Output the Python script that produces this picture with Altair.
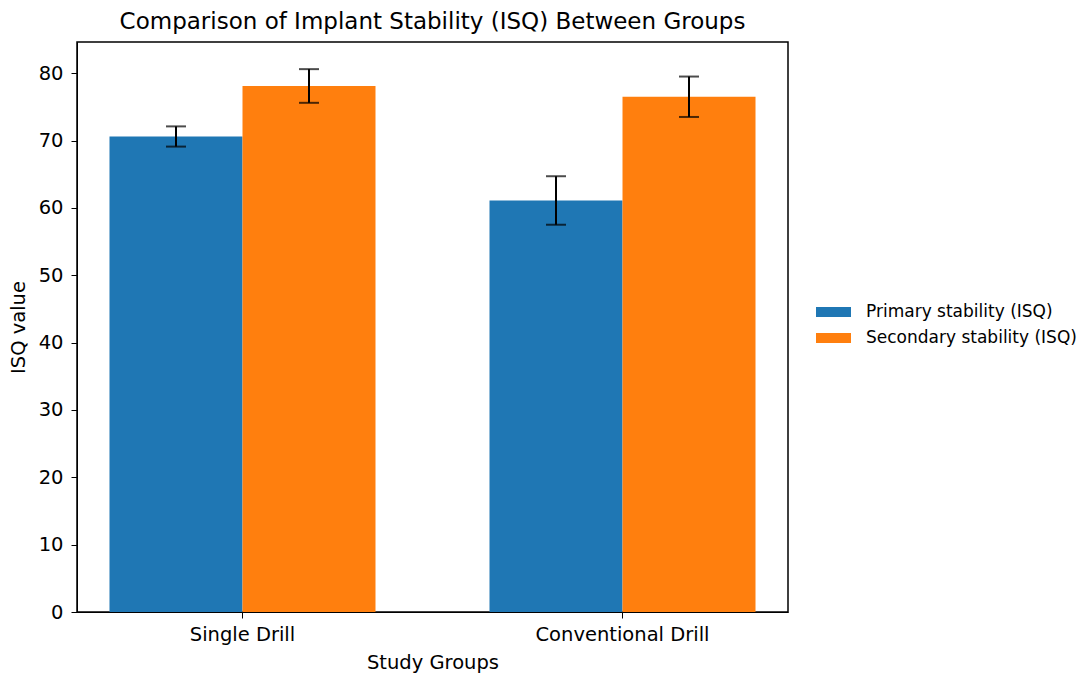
import altair as alt
import pandas as pd

groups = ["Single Drill", "Conventional Drill"]
series = ["Primary stability (ISQ)", "Secondary stability (ISQ)"]
primary_mean = [70.6, 61.1]
primary_sd = [1.5, 3.6]
secondary_mean = [78.1, 76.5]
secondary_sd = [2.5, 3.0]
colors = ["#1f77b4", "#ff7f0e"]

rows = []
for i, g in enumerate(groups):
    for s, m, sd in ((series[0], primary_mean[i], primary_sd[i]), (series[1], secondary_mean[i], secondary_sd[i])):
        rows.append({"group": g, "series": s, "mean": m, "lo": m - sd, "hi": m + sd})
df = pd.DataFrame(rows)

ymax = max(df["hi"]) * 1.05
FONT = "DejaVu Sans"

x_enc = alt.X(
    "group:N", sort=groups,
    scale=alt.Scale(paddingInner=0.3, paddingOuter=0.0855),
    axis=alt.Axis(title="Study Groups", labelAngle=0, labelFontSize=19.5, titleFontSize=19.5,
                  labelFont=FONT, titleFont=FONT, labelColor="#000", titleColor="#000",
                  domainColor="#000", tickColor="#000", tickSize=6, labelPadding=7,
                  titlePadding=10, titleFontWeight="normal", grid=False),
)
xo_enc = alt.XOffset("series:N", sort=series, scale=alt.Scale(paddingInner=0, paddingOuter=0))
y_scale = alt.Scale(domain=[0, ymax], nice=False, zero=True)

bars = alt.Chart(df).mark_bar(strokeWidth=0).encode(
    x=x_enc,
    xOffset=xo_enc,
    y=alt.Y("mean:Q", scale=y_scale,
            axis=alt.Axis(title="ISQ value", values=list(range(0, 90, 10)), labelFontSize=19.5,
                          titleFontSize=19.5, labelFont=FONT, titleFont=FONT, labelColor="#000",
                          titleColor="#000", domainColor="#000", tickColor="#000", tickSize=6,
                          labelPadding=8, titlePadding=10, titleFontWeight="normal", grid=False)),
    color=alt.Color("series:N", sort=series, scale=alt.Scale(domain=series, range=colors),
                    legend=alt.Legend(title=None, orient="none", legendX=746.5, legendY=260,
                                      symbolType="M-1.75,-0.5L1.75,-0.5L1.75,0.5L-1.75,0.5Z",
                                      symbolSize=400, symbolStrokeWidth=0, labelFontSize=17,
                                      labelFont=FONT, labelColor="#000", labelOffset=22.5,
                                      labelLimit=0, rowPadding=8, padding=0)),
)

rules = alt.Chart(df).mark_rule(color="black", strokeWidth=2).encode(
    x=x_enc, xOffset=xo_enc, y=alt.Y("lo:Q", scale=y_scale), y2="hi:Q"
)
cap_hi = alt.Chart(df).mark_tick(color="black", thickness=2, size=20).encode(
    x=x_enc, xOffset=xo_enc, y=alt.Y("hi:Q", scale=y_scale)
)
cap_lo = alt.Chart(df).mark_tick(color="black", thickness=2, size=20).encode(
    x=x_enc, xOffset=xo_enc, y=alt.Y("lo:Q", scale=y_scale)
)

chart = alt.layer(bars, rules, cap_hi, cap_lo).properties(
    width=711, height=570,
    background="white",
    title=alt.Title("Comparison of Implant Stability (ISQ) Between Groups", fontSize=23,
                    font=FONT, fontWeight="normal", color="#000", offset=8),
    autosize=alt.AutoSizeParams(type="none"),
    padding={"left": 69, "top": 34, "right": 295, "bottom": 62},
).configure_view(stroke="#000", strokeWidth=1.5, strokeOpacity=1)

chart.save("out.html", embed_options={"renderer": "svg", "actions": False})
